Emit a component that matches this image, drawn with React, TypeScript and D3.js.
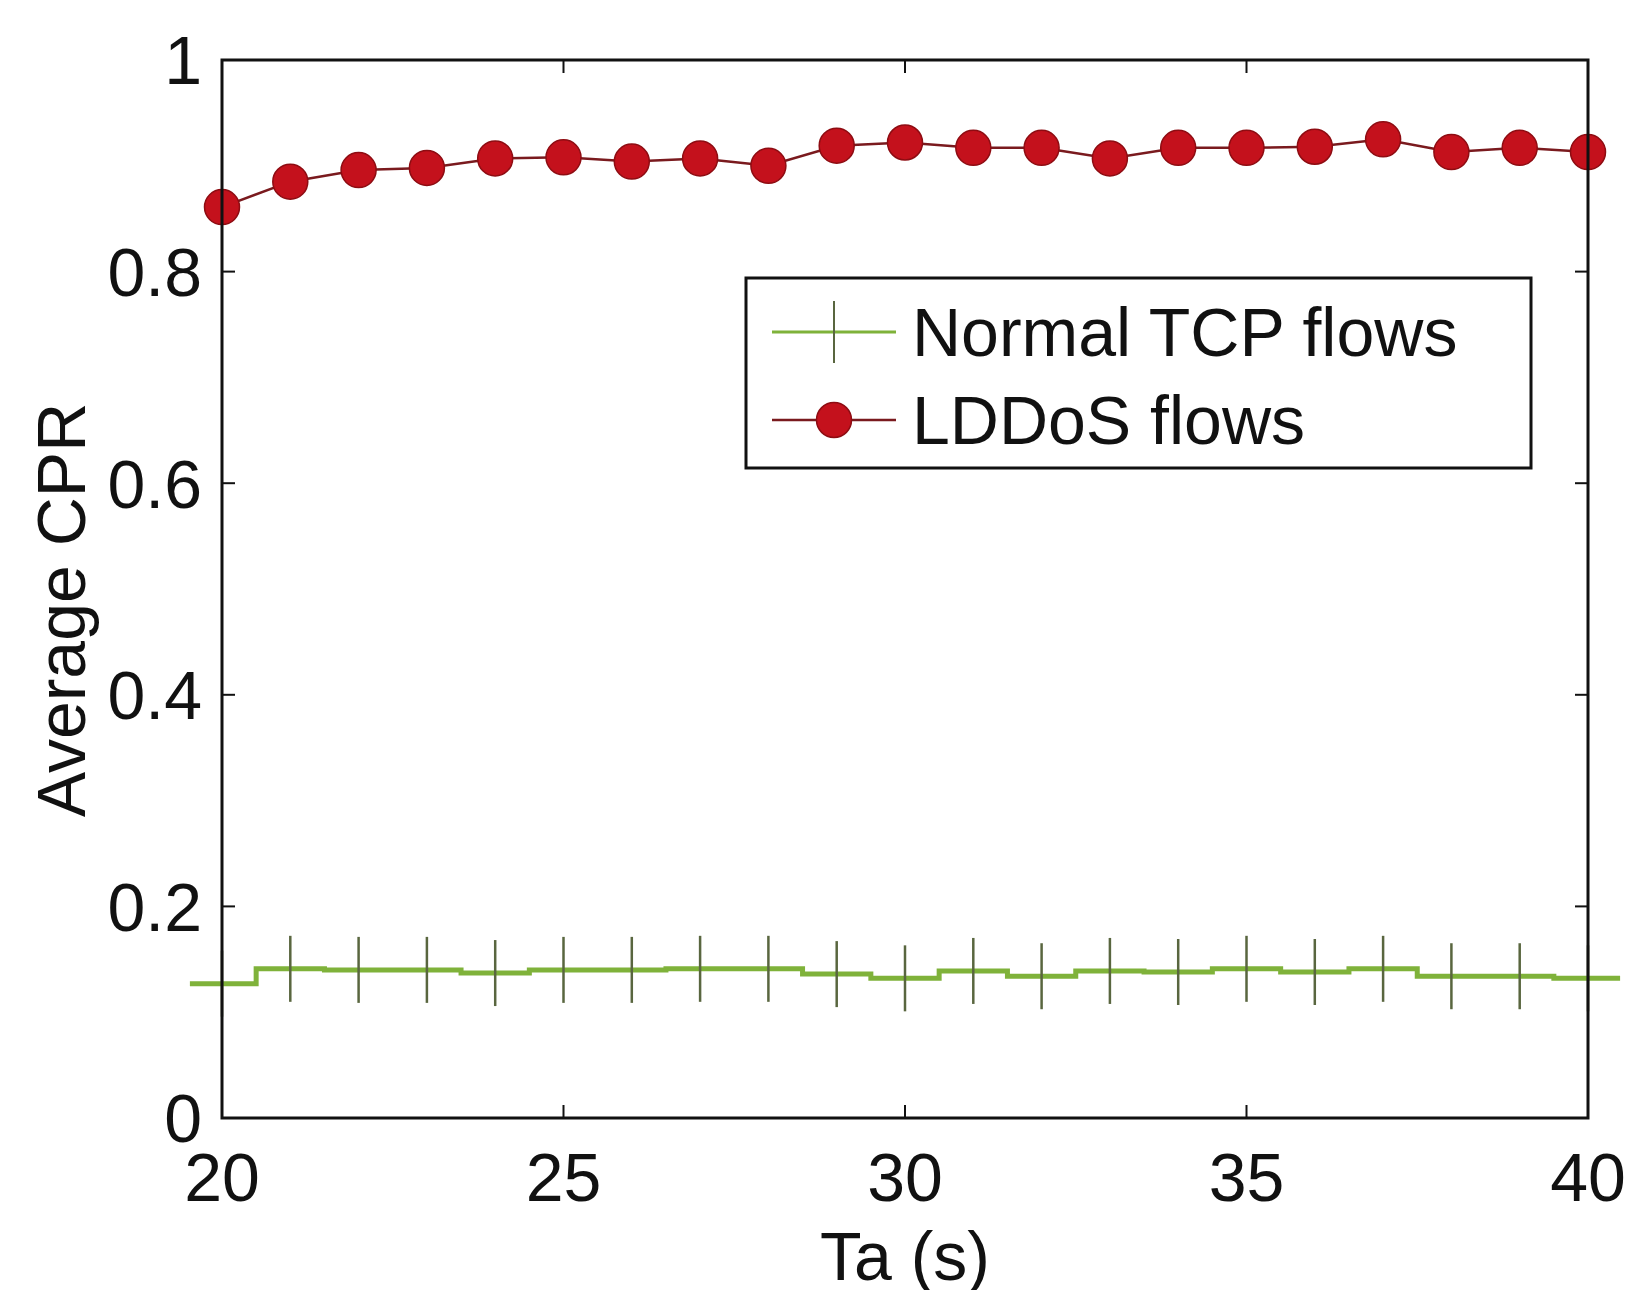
import React, { useEffect } from "react";
import * as d3 from "d3";

const taValues = [20, 21, 22, 23, 24, 25, 26, 27, 28, 29, 30, 31, 32, 33, 34, 35, 36, 37, 38, 39, 40];
const normalTcp = [0.127, 0.141, 0.140, 0.140, 0.137, 0.140, 0.140, 0.141, 0.141, 0.136, 0.132, 0.139, 0.134, 0.139, 0.138, 0.141, 0.138, 0.141, 0.134, 0.134, 0.132];
const lddos = [0.861, 0.885, 0.896, 0.898, 0.907, 0.908, 0.904, 0.907, 0.900, 0.919, 0.922, 0.917, 0.917, 0.907, 0.917, 0.917, 0.918, 0.925, 0.913, 0.917, 0.913];
const xTicks = [20, 25, 30, 35, 40];
const yTicks = [0, 0.2, 0.4, 0.6, 0.8, 1];
const seriesNames = ["Normal TCP flows", "LDDoS flows"];

const W = 1625;
const H = 1290;
const M = { left: 222, right: 1588, top: 60, bottom: 1118 };
const FONT = "'Liberation Sans', Arial, Helvetica, sans-serif";
const FS = 68;

export default function App() {
  useEffect(() => {
    document.body.style.margin = "0";
  }, []);

  const x = d3.scaleLinear().domain([20, 40]).range([M.left, M.right]);
  const y = d3.scaleLinear().domain([0, 1]).range([M.bottom, M.top]);

  const green = taValues.map((t, i) => [t, normalTcp[i]] as [number, number]);
  const red = taValues.map((t, i) => [t, lddos[i]] as [number, number]);
  const half = 0.47;
  const greenExt: [number, number][] = [
    [green[0][0] - half, green[0][1]],
    ...green,
    [green[green.length - 1][0] + half, green[green.length - 1][1]],
  ];

  const stepLine = d3
    .line<[number, number]>()
    .x((d) => x(d[0]))
    .y((d) => y(d[1]))
    .curve(d3.curveStep);
  const linLine = d3
    .line<[number, number]>()
    .x((d) => x(d[0]))
    .y((d) => y(d[1]));

  const tickLen = 13;
  const greenColor = "#7fb23a";
  const plusColor = "#59663f";
  const redFill = "#c4111c";
  const redStroke = "#8e0c12";

  const legX = 746, legY = 278, legW = 785, legH = 190;
  const row1 = 332, row2 = 420;
  const sampleX1 = 772, sampleX2 = 896, sampleMid = 834;

  return (
    <svg width={W} height={H} style={{ display: "block", background: "#fff" }} fontFamily={FONT}>
      {/* green series */}
      <path d={stepLine(greenExt) || ""} fill="none" stroke={greenColor} strokeWidth={5} />
      {green.map((d, i) => (
        <line key={"gp" + i} x1={x(d[0])} x2={x(d[0])} y1={y(d[1]) - 33} y2={y(d[1]) + 33} stroke={plusColor} strokeWidth={2.5} />
      ))}

      {/* red series */}
      <path d={linLine(red) || ""} fill="none" stroke="#7a1a1e" strokeWidth={2.5} />
      {red.map((d, i) => (
        <circle key={"rp" + i} cx={x(d[0])} cy={y(d[1])} r={17.5} fill={redFill} stroke={redStroke} strokeWidth={1.5} />
      ))}

      {/* axes box */}
      <rect x={M.left} y={M.top} width={M.right - M.left} height={M.bottom - M.top} fill="none" stroke="#111" strokeWidth={3} />

      {/* x ticks */}
      {xTicks.map((t) => (
        <g key={"xt" + t}>
          <line x1={x(t)} x2={x(t)} y1={M.bottom} y2={M.bottom - tickLen} stroke="#111" strokeWidth={2} />
          <line x1={x(t)} x2={x(t)} y1={M.top} y2={M.top + tickLen} stroke="#111" strokeWidth={2} />
          <text x={x(t)} y={1201} textAnchor="middle" fontSize={FS} fill="#111">
            {t}
          </text>
        </g>
      ))}

      {/* y ticks */}
      {yTicks.map((t) => (
        <g key={"yt" + t}>
          <line x1={M.left} x2={M.left + tickLen} y1={y(t)} y2={y(t)} stroke="#111" strokeWidth={2} />
          <line x1={M.right} x2={M.right - tickLen} y1={y(t)} y2={y(t)} stroke="#111" strokeWidth={2} />
          <text x={M.left - 20} y={y(t)} dy="0.36em" textAnchor="end" fontSize={FS} fill="#111">
            {d3.format("~g")(t)}
          </text>
        </g>
      ))}

      {/* axis labels */}
      <text x={(M.left + M.right) / 2} y={1280} textAnchor="middle" fontSize={FS} fill="#111">
        Ta (s)
      </text>
      <text
        transform={`translate(85, ${610}) rotate(-90)`}
        textAnchor="middle"
        fontSize={FS}
        fill="#111"
      >
        Average CPR
      </text>

      {/* legend */}
      <rect x={legX} y={legY} width={legW} height={legH} fill="#fff" stroke="#111" strokeWidth={3} />
      <line x1={sampleX1} x2={sampleX2} y1={row1} y2={row1} stroke={greenColor} strokeWidth={3} />
      <line x1={sampleMid} x2={sampleMid} y1={row1 - 31} y2={row1 + 31} stroke={plusColor} strokeWidth={2} />
      <text x={912} y={row1} dy="0.36em" fontSize={FS} fill="#111">
        {seriesNames[0]}
      </text>
      <line x1={sampleX1} x2={sampleX2} y1={row2} y2={row2} stroke="#7a1a1e" strokeWidth={2.5} />
      <circle cx={sampleMid} cy={row2} r={17.5} fill={redFill} stroke={redStroke} strokeWidth={1.5} />
      <text x={912} y={row2} dy="0.36em" fontSize={FS} fill="#111">
        {seriesNames[1]}
      </text>
    </svg>
  );
}
